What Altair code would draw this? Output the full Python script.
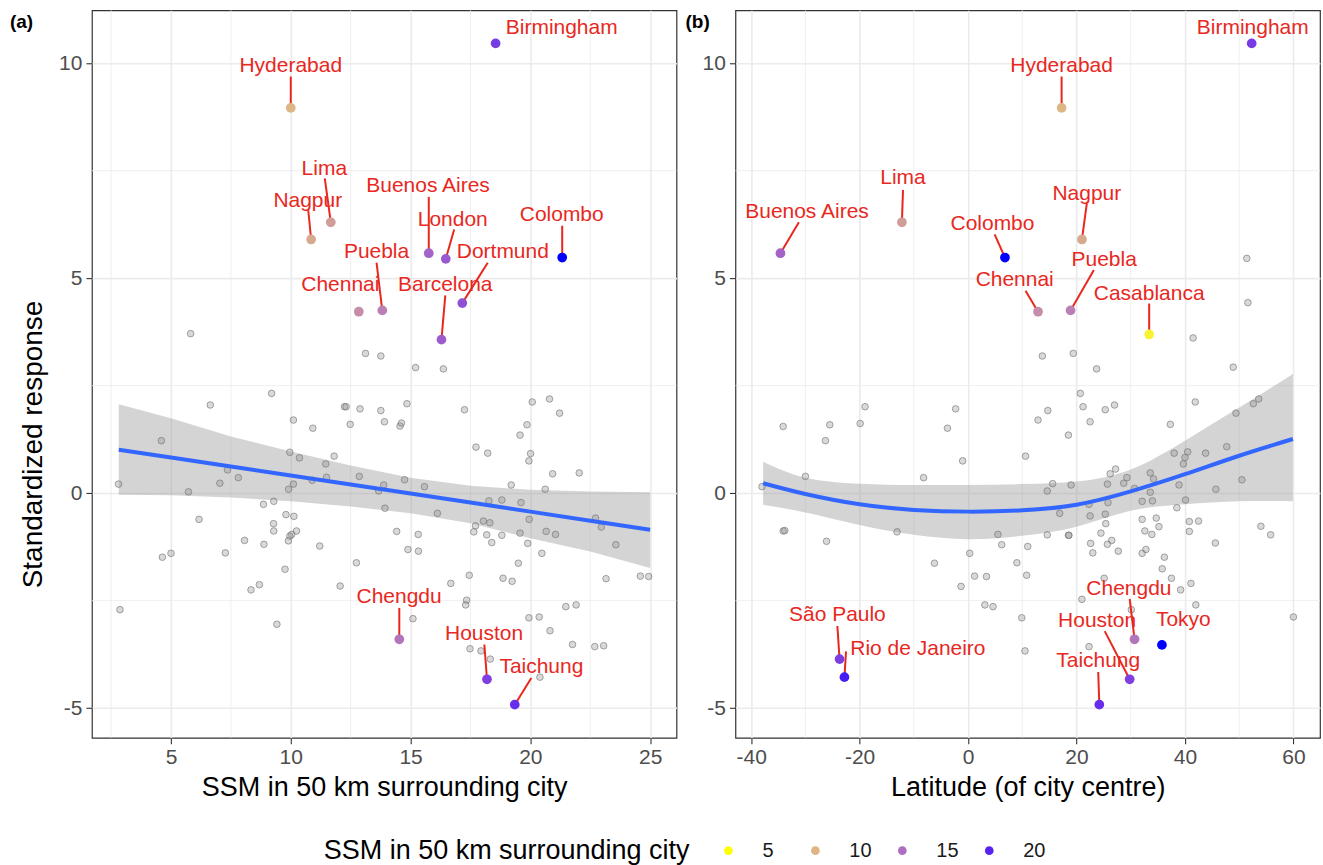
import altair as alt
import pandas as pd

FONT = "Liberation Sans"
RED = "#E8281E"

# ---------------- data ----------------
# grey (unlabelled) cities, panel (a): SSM vs standardized response
gray_a_x = [5.82, 13.12, 13.76, 15.21, 16.37, 9.2, 6.64, 12.24, 12.31, 12.89,
            13.76, 14.85, 17.25, 20.08, 20.8, 21.22, 10.11, 10.92, 12.48, 13.91,
            14.56, 14.62, 19.86, 19.57, 4.6, 17.73, 18.22, 9.96, 10.36, 11.81,
            20.01, 19.94, 11.46, 7.36, 7.81, 11.49, 10.89, 12.86, 20.93, 22.04,
            2.81, 7.04, 10.11, 9.91, 13.88, 14.75, 15.58, 13.67, 19.2, 20.62,
            5.73, 8.86, 9.29, 13.93, 16.12, 18.27, 18.81, 19.61, 6.17, 9.8,
            10.13, 9.28, 9.29, 10.04, 9.96, 10.24, 9.9, 8.07, 8.88, 11.21,
            14.42, 15.32, 14.89, 15.33, 17.71, 18.04, 18.31, 17.64, 18.18, 18.39,
            18.81, 19.57, 19.89, 19.95, 20.66, 21.05, 20.48, 22.72, 22.96, 23.57,
            4.64, 5.0, 7.27, 12.74, 9.76, 19.5, 23.16, 24.59, 24.94, 18.86,
            19.24, 17.45, 16.68, 12.06, 8.69, 8.34, 2.87, 9.42, 15.1, 17.34,
            17.3, 21.48, 21.91, 19.94, 20.37, 20.82, 21.76, 22.69, 23.06, 17.48,
            17.94, 18.33, 20.4]
gray_a_y = [3.71, 3.25, 3.19, 2.92, 2.89, 2.32, 2.05, 2.01, 2.01, 1.96,
            1.92, 2.08, 1.94, 2.12, 2.19, 1.86, 1.70, 1.51, 1.60, 1.66,
            1.56, 1.63, 1.59, 1.35, 1.22, 1.07, 0.93, 0.95, 0.82, 0.86,
            0.92, 0.75, 0.68, 0.54, 0.36, 0.37, 0.30, 0.39, 0.45, 0.47,
            0.21, 0.23, 0.21, 0.09, 0.19, 0.31, 0.15, 0.05, 0.19, 0.09,
            0.03, -0.26, -0.19, -0.35, -0.47, -0.18, -0.16, -0.22, -0.61, -0.5,
            -0.54, -0.71, -0.88, -0.96, -1.0, -0.88, -1.11, -1.1, -1.19, -1.23,
            -0.89, -0.96, -1.31, -1.35, -0.76, -0.65, -0.69, -0.9, -0.97, -1.15,
            -0.98, -0.93, -1.17, -0.61, -0.89, -0.96, -1.4, -0.58, -0.79, -1.2,
            -1.49, -1.4, -1.39, -1.62, -1.77, -1.63, -1.99, -1.93, -1.94, -1.98,
            -2.05, -1.91, -2.1, -2.16, -2.13, -2.25, -2.71, -3.05, -2.92, -2.49,
            -2.6, -2.64, -2.6, -2.9, -2.88, -3.2, -3.52, -3.57, -3.55, -3.62,
            -3.67, -3.86, -4.28]

# grey (unlabelled) cities, panel (b): latitude vs standardized response
gray_b_x = [51.6, 41.5, 13.7, 19.4, 23.7, 48.9, 20.7, 21.2, 14.7, 25.3,
            27.0, 41.9, 52.6, 53.6, 49.4, 12.9, 22.5, 18.5, 37.3, -2.3,
            -3.8, -19.0, -19.9, -25.5, -26.3, -34.1, 10.6, -1.0, -30.0, -8.2,
            -38.0, 38.0, 40.5, 39.7, 43.8, 47.7, 40.0, 26.2, 27.2, 29.3,
            33.6, 34.2, 15.6, 14.6, 19.0, 25.7, 28.7, 30.7, 33.6, 38.9,
            50.5, 45.7, 32.1, 34.0, 40.1, 38.5, 22.3, 25.8, 16.9, 22.5,
            25.3, 25.4, 32.1, 34.7, 35.2, 32.6, 33.9, 40.8, 42.5, 40.8,
            54.0, 55.8, 45.6, -34.1, -33.8, -13.1, -26.1, 5.5, 6.2, 11.0,
            14.6, 18.5, 18.6, 24.5, 26.5, 25.7, 22.6, 23.0, 27.7, 32.1,
            32.8, 36.2, 0.3, -6.2, 9.0, 10.8, 1.2, 3.4, -1.3, 35.8,
            37.5, 41.1, 39.2, 25.1, 21.0, 30.1, 42.0, 60.0, 3.1, 4.6,
            9.9, 22.3, 10.5, 51.4]
gray_b_y = [4.43, 3.61, 3.19, 3.25, 2.89, 2.93, 2.32, 2.01, 1.92, 1.94,
            2.05, 2.12, 2.08, 2.19, 1.86, 1.70, 1.66, 1.35, 1.60, 1.96,
            1.51, 2.01, 1.62, 1.59, 1.22, 1.55, 0.86, 0.75, 0.39, 0.36,
            0.15, 0.93, 0.96, 0.68, 0.93, 1.08, 0.83, 0.45, 0.56, 0.36,
            0.47, 0.33, 0.22, 0.05, 0.19, 0.21, 0.23, 0.11, 0.02, 0.19,
            0.31, 0.09, -0.19, -0.18, -0.16, -0.34, -0.26, -0.22, -0.47, -0.53,
            -0.49, -0.71, -0.61, -0.58, -0.78, -0.88, -0.96, -0.66, -0.65, -0.89,
            -0.77, -0.97, -1.16, -0.88, -0.87, -0.9, -1.12, -0.96, -1.2, -1.24,
            -0.97, -0.98, -0.98, -0.93, -1.1, -1.19, -1.17, -1.39, -1.35, -1.4,
            -1.31, -1.49, -1.4, -1.63, -1.62, -1.91, -1.93, -1.94, -2.17, -1.76,
            -1.98, -2.1, -2.25, -1.98, -2.47, -2.71, -2.6, -2.88, -2.6, -2.64,
            -2.9, -3.57, -3.67, 5.46]

# highlighted cities
city_name = ["Birmingham", "Hyderabad", "Lima", "Nagpur", "Buenos Aires", "London",
             "Colombo", "Dortmund", "Puebla", "Chennai", "Barcelona", "Casablanca",
             "Chengdu", "Houston", "Taichung", "São Paulo", "Rio de Janeiro", "Tokyo"]
city_ssm = [18.55, 10.0, 11.67, 10.85, 15.76, 16.47, 21.33, 17.16, 13.82, 12.84,
            16.29, 5.82, 14.53, 18.19, 19.35, 18.33, 20.4, 23.06]
city_lat = [52.3, 17.25, -12.2, 21.0, -34.6, 51.4, 6.8, 51.6, 18.9, 12.9,
            41.5, 33.4, 30.7, 29.8, 24.2, -23.7, -22.8, 35.75]
city_resp = [10.46, 8.96, 6.30, 5.90, 5.58, 5.45, 5.48, 4.42, 4.25, 4.22,
             3.57, 3.69, -3.40, -4.33, -4.92, -3.86, -4.28, -3.53]

# labels of panel (a): label centre and end of the leader segment
lab_a_city = ["Birmingham", "Hyderabad", "Lima", "Nagpur", "Buenos Aires", "London",
              "Colombo", "Dortmund", "Puebla", "Chennai", "Barcelona", "Chengdu",
              "Houston", "Taichung"]
lab_a_tx = [21.31, 10.0, 11.4, 10.71, 15.73, 16.76, 21.31, 18.85, 13.58, 12.07,
            16.45, 14.52, 18.07, 20.46]
lab_a_ty = [10.82, 9.94, 7.55, 6.8, 7.14, 6.35, 6.46, 5.61, 5.6, 4.83,
            4.83, -2.41, -3.27, -4.05]
lab_a_ex = [None, 10.0, 11.42, 10.73, 15.76, 16.82, 21.33, 18.22, 13.58, None,
            16.45, 14.53, 18.08, 20.04]
lab_a_ey = [None, 9.69, 7.32, 6.58, 6.89, 6.13, 6.22, 5.36, 5.36, None,
            4.6, -2.67, -3.52, -4.3]

# labels of panel (b)
lab_b_city = ["Birmingham", "Hyderabad", "Lima", "Buenos Aires", "Colombo", "Nagpur",
              "Chennai", "Puebla", "Casablanca", "São Paulo", "Rio de Janeiro",
              "Tokyo", "Chengdu", "Houston", "Taichung"]
lab_b_tx = [52.5, 17.25, -12.0, -29.7, 4.5, 21.9, 8.6, 25.1, 33.4, -24.1, -9.25,
            39.7, 29.66, 23.8, 24.0]
lab_b_ty = [10.82, 9.94, 7.32, 6.55, 6.27, 6.95, 4.95, 5.43, 4.64, -2.84, -3.62,
            -2.96, -2.22, -2.98, -3.91]
lab_b_ex = [None, 17.25, -12.0, -31.2, 4.9, 21.9, 10.6, 23.2, 33.4, -24.1, -22.5,
            None, 29.8, 25.2, 24.0]
lab_b_ey = [None, 9.69, 7.05, 6.3, 6.02, 6.74, 4.71, 5.19, 4.41, -3.09, -3.68,
            None, -2.46, -3.21, -4.16]

# fitted curves with confidence bands
fit_a_x = [2.82, 5, 7.5, 10, 12.5, 15, 17.5, 20, 22.5, 25]
fit_a_y = [1.01, 0.83, 0.62, 0.41, 0.20, -0.01, -0.22, -0.43, -0.64, -0.85]
fit_a_lo = [-0.04, -0.05, -0.10, -0.19, -0.31, -0.47, -0.70, -1.05, -1.36, -1.74]
fit_a_hi = [2.07, 1.74, 1.32, 0.97, 0.64, 0.36, 0.17, 0.08, 0.04, 0.02]

fit_b_x = [-37.8, -30, -20, -10, 0, 10, 20, 30, 40, 50, 59.9]
fit_b_y = [0.23, -0.02, -0.26, -0.39, -0.43, -0.40, -0.27, 0.04, 0.44, 0.87, 1.26]
fit_b_lo = [-0.27, -0.45, -0.74, -0.97, -1.07, -0.99, -0.78, -0.41, -0.26, -0.19, -0.19]
fit_b_hi = [0.73, 0.36, 0.22, 0.19, 0.19, 0.21, 0.27, 0.55, 1.22, 1.99, 2.77]

# axes
ticks_a = [5, 10, 15, 20, 25]
minor_a = [2.5, 7.5, 12.5, 17.5, 22.5]
ticks_b = [-40, -20, 0, 20, 40, 60]
minor_b = [-30, -10, 10, 30, 50]
ticks_y = [-5, 0, 5, 10]
minor_y = [-2.5, 2.5, 7.5]
legend_vals = [5, 10, 15, 20]

XDOM_A = [1.7, 26.1]
XDOM_B = [-42.9, 64.9]
YDOM = [-5.69, 11.23]

cities = pd.DataFrame({"city": city_name, "ssm": city_ssm, "lat": city_lat, "resp": city_resp})

color_scale = alt.Scale(domain=[5.0, 21.33], range=["yellow", "blue"],
                        interpolate="lab", clamp=True)


def make_panel(gx, gy, xcol, labc, ltx, lty, lex, ley, fx, fy, flo, fhi,
               xdom, xticks, xminor, xtitle, ytitle, tag, tagx, interp):
    xs = alt.Scale(domain=xdom, nice=False, zero=False)
    ys = alt.Scale(domain=YDOM, nice=False, zero=False)
    xaxis = alt.Axis(values=xticks, title=xtitle, grid=True, gridColor="#EBEBEB",
                     gridWidth=1.6, domain=False, ticks=True, tickColor="#333333",
                     tickSize=6, tickWidth=1.1, labelColor="#4D4D4D", labelFontSize=21,
                     labelFont=FONT, labelPadding=3, titleFont=FONT, titleFontSize=27,
                     titleFontWeight="normal", titleColor="black", titlePadding=7,
                     labelExpr="'' + datum.value")
    yaxis = alt.Axis(values=ticks_y, title=ytitle, grid=True, gridColor="#EBEBEB",
                     gridWidth=1.6, domain=False, ticks=True, tickColor="#333333",
                     tickSize=6, tickWidth=1.1, labelColor="#4D4D4D", labelFontSize=21,
                     labelFont=FONT, labelPadding=4, titleFont=FONT, titleFontSize=28,
                     titleFontWeight="normal", titleColor="black", titlePadding=11,
                     titleY=434, labelExpr="'' + datum.value")

    def X(f):
        return alt.X(f + ":Q", scale=xs, axis=xaxis)

    def Y(f):
        return alt.Y(f + ":Q", scale=ys, axis=yaxis)

    minor_v = alt.Chart(pd.DataFrame({"x": xminor})).mark_rule(
        color="#EBEBEB", strokeWidth=0.8).encode(x=X("x"))
    minor_h = alt.Chart(pd.DataFrame({"y": minor_y})).mark_rule(
        color="#EBEBEB", strokeWidth=0.8).encode(y=Y("y"))

    fit = pd.DataFrame({"x": fx, "y": fy, "lo": flo, "hi": fhi})
    band = alt.Chart(fit).mark_area(color="#999999", opacity=0.42,
                                    interpolate=interp).encode(
        x=X("x"), y=Y("lo"), y2="hi:Q")
    line = alt.Chart(fit).mark_line(color="#3366FF", strokeWidth=4,
                                    interpolate=interp).encode(x=X("x"), y=Y("y"))

    grey = alt.Chart(pd.DataFrame({"x": gx, "y": gy})).mark_circle(
        size=44, fill="#8C8C8C", fillOpacity=0.33, stroke="#6E6E6E",
        strokeOpacity=0.6, strokeWidth=1).encode(x=X("x"), y=Y("y"))

    labs = pd.DataFrame({"city": labc, "tx": ltx, "ty": lty, "ex": lex, "ey": ley})
    labs = labs.merge(cities, on="city", how="left")
    labs["x"] = labs[xcol]
    labs["y"] = labs["resp"]
    segs = labs.dropna(subset=["ex"])

    seg = alt.Chart(segs).mark_rule(color=RED, strokeWidth=2).encode(
        x=X("x"), y=Y("y"), x2="ex:Q", y2="ey:Q")

    pts = alt.Chart(labs).mark_circle(size=95, opacity=1).encode(
        x=X("x"), y=Y("y"),
        color=alt.Color("ssm:Q", scale=color_scale,
                        title="SSM in 50 km surrounding city",
                        legend=alt.Legend(type="symbol", values=legend_vals,
                                          orient="none", legendX=232, legendY=831,
                                          direction="horizontal", titleOrient="left",
                                          titleFont=FONT, titleFontSize=27,
                                          titleFontWeight="normal", titleColor="black",
                                          titlePadding=28, titleBaseline="middle",
                                          titleLimit=800,
                                          labelFont=FONT, labelFontSize=20,
                                          labelColor="#1A1A1A", labelOffset=24,
                                          columnPadding=20, gridAlign="all",
                                          symbolType="circle", symbolSize=75,
                                          symbolStrokeWidth=0)))

    txt = alt.Chart(labs).mark_text(font=FONT, fontSize=21, color=RED,
                                    align="center", baseline="middle").encode(
        x=X("tx"), y=Y("ty"), text="city:N")

    tagc = alt.Chart(pd.DataFrame({"t": [tag]})).mark_text(
        font=FONT, fontSize=19, fontWeight="bold", color="black",
        align="left", baseline="middle").encode(
        x=alt.value(tagx), y=alt.value(12), text="t:N")

    return alt.layer(minor_v, minor_h, band, grey, line, seg, pts, txt, tagc).properties(
        width=585, height=728)


pa = make_panel(gray_a_x, gray_a_y, "ssm", lab_a_city, lab_a_tx, lab_a_ty, lab_a_ex,
                lab_a_ey, fit_a_x, fit_a_y, fit_a_lo, fit_a_hi, XDOM_A, ticks_a,
                minor_a, "SSM in 50 km surrounding city", "Standardized response",
                "(a)", -82, "linear")
pb = make_panel(gray_b_x, gray_b_y, "lat", lab_b_city, lab_b_tx, lab_b_ty, lab_b_ex,
                lab_b_ey, fit_b_x, fit_b_y, fit_b_lo, fit_b_hi, XDOM_B, ticks_b,
                minor_b, "Latitude (of city centre)", "", "(b)", -50, "natural")

chart = alt.hconcat(pa, pb, spacing=59, bounds="flush").properties(
    padding={"left": 9, "top": 9, "right": 2, "bottom": 2}
).configure(font=FONT).configure_view(stroke="#333333", strokeWidth=1.2)

chart.save("out.html", embed_options={"renderer": "svg", "actions": False})
